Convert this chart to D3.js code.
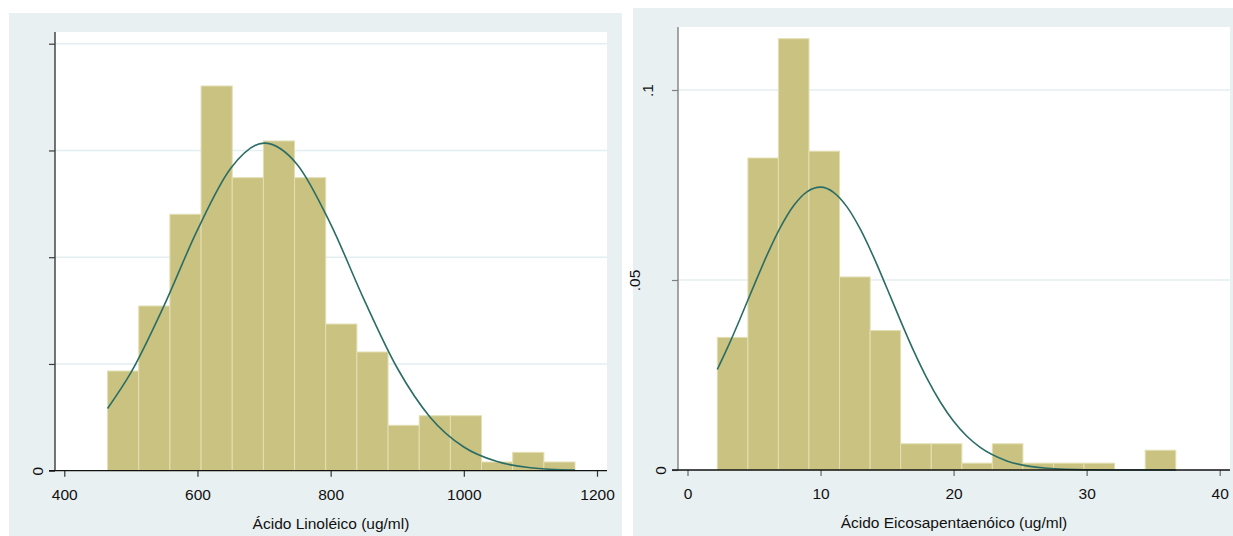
<!DOCTYPE html>
<html><head><meta charset="utf-8">
<script src="https://cdn.jsdelivr.net/npm/d3@7"></script>
<style>
body{margin:0;background:#fff}
svg{display:block}
text{font-family:"Liberation Sans",Arial,sans-serif}
</style>
</head><body>
<svg id="chart" width="1233" height="536"></svg>
<script>
// ---------- Left panel data: Ácido Linoléico ----------
const linoleicEdges = [465, 511.8, 558.6, 605.4, 652.2, 699, 745.8, 792.6, 839.4, 886.2, 933, 979.8, 1026.6, 1073.4, 1120.2, 1167];
const linoleicDensity = [0.000934, 0.001543, 0.002402, 0.003604, 0.002745, 0.003089, 0.002745, 0.001374, 0.001112, 0.000425, 0.000515, 0.000515, 0.0000815, 0.000172, 0.0000815];
const linoleicCurveX = [465, 500, 550, 600, 650, 700, 750, 800, 850, 900, 950, 1000, 1050, 1100, 1167];
const linoleicCurveY = [0.000583, 0.000918, 0.001549, 0.002256, 0.002833, 0.003069, 0.002867, 0.002310, 0.001605, 0.000962, 0.000497, 0.000222, 0.0000853, 0.0000283, 0.0000051];
const linoleicXTicks = [400, 600, 800, 1000, 1200];
const linoleicYTicks = [0, 0.001, 0.002, 0.003, 0.004];
const linoleicYTickLabels = ["0", "", "", "", ""];
const linoleicTitle = "Ácido Linoléico (ug/ml)";

// ---------- Right panel data: Ácido Eicosapentaenóico ----------
const epaEdges = [2.24, 4.54, 6.83, 9.13, 11.43, 13.73, 16.02, 18.32, 20.62, 22.91, 25.21, 27.51, 29.8, 32.1, 34.4, 36.7];
const epaDensity = [0.0349, 0.0821, 0.1135, 0.0839, 0.0508, 0.0367, 0.0069, 0.0069, 0.0018, 0.0069, 0.0018, 0.0018, 0.0018, 0, 0.0052];
const epaCurveX = [2.24, 3, 4, 5, 6, 7, 8, 9, 10, 11, 12, 13, 14, 15, 16, 17, 18, 19, 20, 21, 22, 24, 27, 30, 33, 36.7];
const epaCurveY = [0.02645, 0.03212, 0.04019, 0.04860, 0.05673, 0.06397, 0.06967, 0.07327, 0.07443, 0.07302, 0.06918, 0.06330, 0.05594, 0.04775, 0.03937, 0.03134, 0.02409, 0.01789, 0.01283, 0.008888, 0.005947, 0.002397, 0.000473, 0.0000682, 0.000006, 0];
const epaXTicks = [0, 10, 20, 30, 40];
const epaYTicks = [0, 0.05, 0.1];
const epaYTickLabels = ["0", ".05", ".1"];
const epaTitle = "Ácido Eicosapentaenóico (ug/ml)";

// ---------- Drawing ----------
const svg = d3.select("#chart");
const BAR_FILL = "#c9c281", BAR_STROKE = "#e3dfb3", CURVE = "#2b6d65";
const PANEL_BG = "#e8f0f2", GRID = "#e4eef0";

function drawPanel(cfg) {
  const g = svg.append("g");
  g.append("rect").attr("x", cfg.bg[0]).attr("y", cfg.bg[1]).attr("width", cfg.bg[2]).attr("height", cfg.bg[3]).attr("fill", PANEL_BG);
  g.append("rect").attr("x", cfg.plot[0]).attr("y", cfg.plot[1]).attr("width", cfg.plot[2] - cfg.plot[0]).attr("height", cfg.plot[3] - cfg.plot[1]).attr("fill", "#fff");

  const xs = d3.scaleLinear().domain(cfg.xDom).range(cfg.xRange);
  const ys = d3.scaleLinear().domain(cfg.yDom).range(cfg.yRange);

  // gridlines
  g.selectAll("line.grid").data(cfg.yTicks.filter(d => d > 0)).enter().append("line")
    .attr("x1", cfg.plot[0]).attr("x2", cfg.plot[2])
    .attr("y1", d => ys(d)).attr("y2", d => ys(d))
    .attr("stroke", GRID).attr("stroke-width", 1.6);

  // bars
  const bins = cfg.density.map((d, i) => ({x0: cfg.edges[i], x1: cfg.edges[i + 1], d}));
  g.selectAll("rect.bar").data(bins.filter(b => b.d > 0)).enter().append("rect")
    .attr("x", b => xs(b.x0)).attr("width", b => xs(b.x1) - xs(b.x0))
    .attr("y", b => ys(b.d)).attr("height", b => ys(0) - ys(b.d))
    .attr("fill", BAR_FILL).attr("stroke", BAR_STROKE).attr("stroke-width", 1);

  // normal curve
  const pts = cfg.curveX.map((x, i) => [x, cfg.curveY[i]]);
  g.append("path").datum(pts)
    .attr("d", d3.line().x(p => xs(p[0])).y(p => ys(p[1])).curve(d3.curveMonotoneX))
    .attr("fill", "none").attr("stroke", CURVE).attr("stroke-width", 1.6);

  // y axis
  const ya = g.append("g").attr("transform", `translate(${cfg.plot[0]},0)`)
    .call(d3.axisLeft(ys).tickValues(cfg.yTicks).tickSize(6).tickSizeOuter(0)
      .tickFormat((d, i) => cfg.yLabels[i]));
  ya.select(".domain").remove();
  ya.selectAll(".tick line").attr("stroke", cfg.yAxisColor).attr("stroke-width", 1.2);
  ya.selectAll(".tick text")
    .attr("x", null).attr("dy", null).attr("fill", "#111")
    .attr("font-size", 15.5).attr("text-anchor", "middle")
    .attr("transform", (d, i) => `translate(${-(12.5 + 12.75 * (cfg.yLabels[i].length - 1))},0) rotate(-90)`);
  g.append("line").attr("x1", cfg.plot[0]).attr("x2", cfg.plot[0])
    .attr("y1", cfg.plot[1]).attr("y2", cfg.plot[3])
    .attr("stroke", cfg.yAxisColor).attr("stroke-width", 1.4);

  // x axis
  const xa = g.append("g").attr("transform", `translate(0,${cfg.plot[3]})`)
    .call(d3.axisBottom(xs).tickValues(cfg.xTicks).tickSize(6).tickSizeOuter(0).tickPadding(12).tickFormat(d3.format("d")));
  xa.select(".domain").remove();
  xa.selectAll(".tick line").attr("stroke", cfg.xTickColor).attr("stroke-width", 1.2);
  xa.selectAll(".tick text").attr("fill", "#111").attr("font-size", 15.5);
  g.append("line").attr("x1", cfg.plot[0] - 6).attr("x2", cfg.plot[2])
    .attr("y1", cfg.plot[3]).attr("y2", cfg.plot[3])
    .attr("stroke", "#111").attr("stroke-width", 1.3);

  // title
  g.append("text").attr("x", (cfg.plot[0] + cfg.plot[2]) / 2).attr("y", cfg.titleY)
    .attr("text-anchor", "middle").attr("font-size", 15.5).attr("fill", "#111").text(cfg.title);
}

drawPanel({
  bg: [9, 13, 613, 523], plot: [55, 32, 607, 470.7],
  xDom: [400, 1200], xRange: [64.3, 597], yDom: [0, 0.004], yRange: [470.7, 43.7],
  edges: linoleicEdges, density: linoleicDensity, curveX: linoleicCurveX, curveY: linoleicCurveY,
  xTicks: linoleicXTicks, yTicks: linoleicYTicks, yLabels: linoleicYTickLabels,
  title: linoleicTitle, titleY: 529, yAxisColor: "#3a3a3a", xTickColor: "#333"
});
drawPanel({
  bg: [633, 8, 600, 528], plot: [678, 27, 1230, 470],
  xDom: [0, 40], xRange: [687.5, 1219.7], yDom: [0, 0.1], yRange: [470, 90],
  edges: epaEdges, density: epaDensity, curveX: epaCurveX, curveY: epaCurveY,
  xTicks: epaXTicks, yTicks: epaYTicks, yLabels: epaYTickLabels,
  title: epaTitle, titleY: 528, yAxisColor: "#808080", xTickColor: "#666"
});
</script>
</body></html>
